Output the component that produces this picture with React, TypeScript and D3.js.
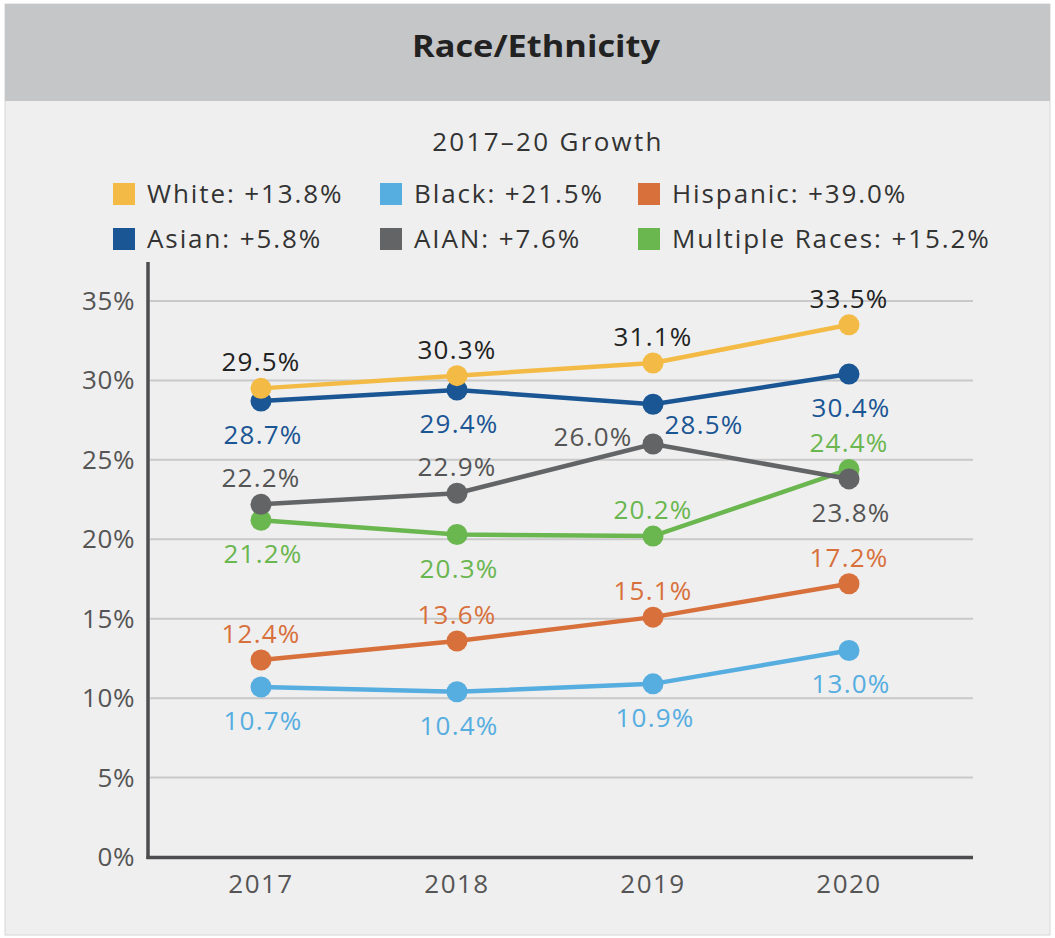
import React from "react";
import * as d3 from "d3";

const years = ["2017", "2018", "2019", "2020"];
const white = [29.5, 30.3, 31.1, 33.5];
const black = [10.7, 10.4, 10.9, 13.0];
const hispanic = [12.4, 13.6, 15.1, 17.2];
const asian = [28.7, 29.4, 28.5, 30.4];
const aian = [22.2, 22.9, 26.0, 23.8];
const multiple = [21.2, 20.3, 20.2, 24.4];
const growthLabels = ["White: +13.8%", "Black: +21.5%", "Hispanic: +39.0%", "Asian: +5.8%", "AIAN: +7.6%", "Multiple Races: +15.2%"];
const yTicks = [0, 5, 10, 15, 20, 25, 30, 35];

// label placement per series/point (style only)
const placements: Record<string, string[]> = {
  white: ["above", "above", "above", "above"],
  black: ["below", "below", "below", "below"],
  hispanic: ["above", "above", "above", "above"],
  asian: ["below", "below", "belowRight", "below"],
  aian: ["above", "above", "aboveLeft", "below"],
  multiple: ["below", "below", "above", "above"],
};

const series = [
  { key: "white", values: white, color: "#f3bb45", text: "#222222" },
  { key: "black", values: black, color: "#56ade0", text: "#56ade0" },
  { key: "hispanic", values: hispanic, color: "#d8703b", text: "#d8703b" },
  { key: "asian", values: asian, color: "#1a5594", text: "#1a5594" },
  { key: "aian", values: aian, color: "#636466", text: "#555555" },
  { key: "multiple", values: multiple, color: "#6ab64f", text: "#6ab64f" },
];
const drawOrder = ["multiple", "aian", "black", "hispanic", "asian", "white"];

const FONT = "'Open Sans', 'DejaVu Sans', sans-serif";

export default function App() {
  const W = 1055, H = 938;
  const x = d3.scalePoint<string>().domain(years).range([261, 849]);
  const y = d3.scaleLinear().domain([0, 35]).range([857, 301]);
  const line = d3.line<number>().x((_, i) => x(years[i])!).y((d) => y(d));

  const labelPos = (p: string, cx: number, cy: number) => {
    switch (p) {
      case "above": return [cx, cy - 17];
      case "below": return [cx + 2, cy + 43];
      case "belowRight": return [cx + 51, cy + 30];
      case "aboveLeft": return [cx - 60, cy + 2];
      default: return [cx, cy];
    }
  };

  return (
    <svg width={W} height={H} style={{ position: "absolute", left: 0, top: 0, display: "block" }} fontFamily={FONT}>
      <rect x={0} y={0} width={W} height={H} fill="#ffffff" />
      <rect x={5} y={4} width={1045} height={931} fill="#efefef" stroke="#d6d6d6" strokeWidth={1} />
      <rect x={5} y={4} width={1045} height={97} fill="#c5c6c8" />
      <text x={536} y={57} textAnchor="middle" fontSize={31} fontWeight={700} fill="#222" textLength={248} lengthAdjust="spacingAndGlyphs">Race/Ethnicity</text>

      <text x={548} y={151} textAnchor="middle" fontSize={26} fill="#333" letterSpacing={2.3}>2017–20 Growth</text>

      {growthLabels.map((lab, i) => {
        const col = i % 3, row = Math.floor(i / 3);
        const lx = [113, 380, 638][col];
        const ly = [194, 239][row];
        return (
          <g key={lab}>
            <rect x={lx} y={ly - 11} width={22} height={22} fill={series[i].color} />
            <text x={lx + 34} y={ly + 9} fontSize={26} fill="#333" letterSpacing={1.9}>{lab}</text>
          </g>
        );
      })}

      {yTicks.filter((t) => t > 0).map((t) => (
        <line key={t} x1={150} x2={973} y1={y(t)} y2={y(t)} stroke="#c9c9c9" strokeWidth={2} />
      ))}
      {yTicks.map((t) => (
        <text key={"l" + t} x={135} y={y(t) + 9} textAnchor="end" fontSize={26} fill="#555" letterSpacing={0.6}>{t}%</text>
      ))}
      <line x1={148} x2={148} y1={262} y2={859} stroke="#4d4d4f" strokeWidth={3.5} />
      <line x1={146.5} x2={973} y1={857.5} y2={857.5} stroke="#4d4d4f" strokeWidth={3.5} />
      {years.map((yr) => (
        <text key={yr} x={x(yr)!} y={893} textAnchor="middle" fontSize={26} fill="#555" letterSpacing={1.5}>{yr}</text>
      ))}

      {drawOrder.map((k) => {
        const s = series.find((d) => d.key === k)!;
        return (
          <g key={k}>
            <path d={line(s.values)!} fill="none" stroke={s.color} strokeWidth={4.5} />
            {s.values.map((v, i) => (
              <circle key={i} cx={x(years[i])!} cy={y(v)} r={10.5} fill={s.color} />
            ))}
          </g>
        );
      })}
      {series.map((s) =>
        s.values.map((v, i) => {
          const [lx, ly] = labelPos(placements[s.key][i], x(years[i])!, y(v));
          return (
            <text key={s.key + i} x={lx} y={ly} textAnchor="middle" fontSize={26} fill={s.text} letterSpacing={1.2}>
              {v.toFixed(1)}%
            </text>
          );
        })
      )}
    </svg>
  );
}
